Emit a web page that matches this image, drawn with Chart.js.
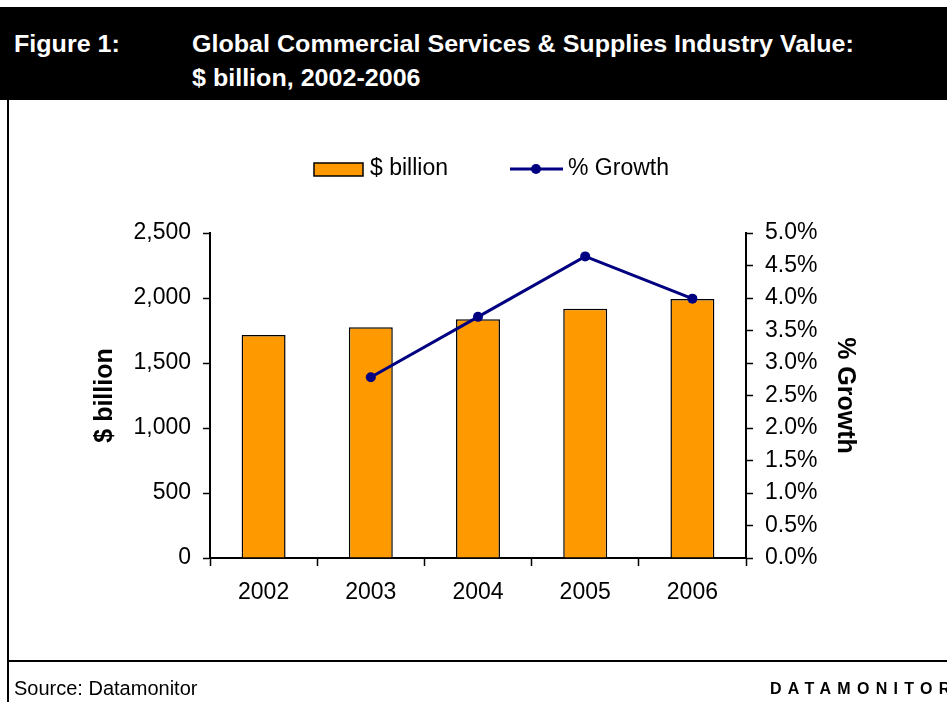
<!DOCTYPE html>
<html>
<head>
<meta charset="utf-8">
<script src="https://cdn.jsdelivr.net/npm/chart.js@4.4.1/dist/chart.umd.min.js"></script>
<style>
    body { margin: 0; background: #fff; font-family: "Liberation Sans", Arial, sans-serif; }
    #wrap { position: relative; width: 947px; height: 702px; overflow: hidden; }
    #myChart { position: absolute; left: 0; top: 0; }
    .band { position: absolute; left: 0; top: 7px; width: 947px; height: 93px; background: #000; }
    .ttl { position: absolute; color: #fff; font-weight: bold; font-size: 23px; line-height: 26px; white-space: nowrap; transform: scaleX(1.09); transform-origin: left center; }
    .vline { position: absolute; left: 7px; top: 100px; width: 2px; height: 602px; background: #000; }
    .hline { position: absolute; left: 7px; top: 660px; width: 940px; height: 2px; background: #000; }
    .src { position: absolute; left: 14px; top: 677px; font-size: 20px; line-height: 22px; }
    .brand { position: absolute; left: 770px; top: 680px; font-size: 16px; font-weight: bold; letter-spacing: 6.3px; line-height: 18px; white-space: nowrap; }
</style>
</head>
<body>
<div id="wrap">
    <canvas id="myChart" width="947" height="702"></canvas>
    <div class="band"></div>
    <div class="ttl" style="left:14px;top:31px">Figure 1:</div>
    <div class="ttl" style="left:192px;top:31px">Global Commercial Services &amp; Supplies Industry Value:</div>
    <div class="ttl" style="left:192px;top:65px">$ billion, 2002-2006</div>
    <div class="vline"></div>
    <div class="hline"></div>
    <div class="src">Source: Datamonitor</div>
    <div class="brand">DATAMONITOR</div>
</div>
<script>
const years = ['2002', '2003', '2004', '2005', '2006'];
const valueBillion = [1715, 1775, 1836, 1918, 1992];
const growthPct = [null, 2.78, 3.71, 4.64, 3.99];

const FONT = '"Liberation Sans", Arial, sans-serif';
const orange = '#FF9900';
const navy = '#000080';

// legend drawn by hand: box for bars, line-with-dot for the growth series
const legendPlugin = {
    id: 'topLegend',
    afterDraw(chart) {
        const ctx = chart.ctx;
        const ds = chart.data.datasets;
        const y = 169;
        ctx.save();
        ctx.font = '23px ' + FONT;
        ctx.textBaseline = 'middle';
        ctx.fillStyle = ds[0].backgroundColor;
        ctx.fillRect(314, 163, 49, 13);
        ctx.lineWidth = 1.5;
        ctx.strokeStyle = '#000';
        ctx.strokeRect(314, 163, 49, 13);
        ctx.fillStyle = '#000';
        ctx.fillText(ds[0].label, 370, y);

        ctx.strokeStyle = ds[1].borderColor;
        ctx.lineWidth = 3;
        ctx.beginPath();
        ctx.moveTo(510, y);
        ctx.lineTo(563, y);
        ctx.stroke();
        ctx.fillStyle = ds[1].borderColor;
        ctx.beginPath();
        ctx.arc(536, y, 5, 0, Math.PI * 2);
        ctx.fill();
        ctx.fillStyle = '#000';
        ctx.fillText(ds[1].label, 568, y);
        ctx.restore();
    }
};

const ctx1 = document.getElementById('myChart').getContext('2d');
const myChart1 = new Chart(ctx1, {
    data: {
        labels: years,
        datasets: [{
            type: 'bar',
            label: '$ billion',
            data: valueBillion,
            backgroundColor: orange,
            borderColor: '#000',
            borderWidth: 1.5,
            categoryPercentage: 1,
            barPercentage: 0.41,
            yAxisID: 'y',
            order: 2
        }, {
            type: 'line',
            label: '% Growth',
            data: growthPct,
            borderColor: navy,
            backgroundColor: navy,
            borderWidth: 3,
            pointRadius: 5,
            pointBackgroundColor: navy,
            pointBorderWidth: 0,
            tension: 0,
            yAxisID: 'y1',
            order: 1
        }]
    },
    plugins: [legendPlugin],
    options: {
        responsive: false,
        animation: false,
        layout: { padding: { top: 233, bottom: 84, left: 0, right: 0 } },
        plugins: {
            legend: { display: false },
            tooltip: { enabled: false }
        },
        scales: {
            x: {
                afterFit: s => { s.height = 60; },
                grid: { drawOnChartArea: false, offset: true, tickLength: 8, tickColor: '#000', tickWidth: 1.5 },
                border: { color: '#000', width: 2 },
                ticks: { color: '#000', font: { family: FONT, size: 23 }, padding: 13 }
            },
            y: {
                position: 'left',
                min: 0,
                max: 2500,
                afterFit: s => { s.width = 210; },
                grid: { drawOnChartArea: false, tickLength: 7, tickColor: '#000', tickWidth: 1.5 },
                border: { color: '#000', width: 2 },
                ticks: {
                    stepSize: 500,
                    color: '#000',
                    font: { family: FONT, size: 23 },
                    padding: 12,
                    callback: v => v.toLocaleString('en-US')
                },
                title: {
                    display: true,
                    text: '$ billion',
                    color: '#000',
                    font: { family: FONT, size: 25, weight: 'bold' },
                    padding: { top: 90, bottom: 0 }
                }
            },
            y1: {
                position: 'right',
                min: 0,
                max: 5,
                afterFit: s => { s.width = 201; },
                grid: { drawOnChartArea: false, tickLength: 7, tickColor: '#000', tickWidth: 1.5 },
                border: { color: '#000', width: 2 },
                ticks: {
                    stepSize: 0.5,
                    color: '#000',
                    font: { family: FONT, size: 23 },
                    padding: 12,
                    callback: v => v.toFixed(1) + '%'
                },
                title: {
                    display: true,
                    text: '% Growth',
                    color: '#000',
                    font: { family: FONT, size: 25, weight: 'bold' },
                    padding: { top: 87, bottom: 0 }
                }
            }
        }
    }
});
</script>
</body>
</html>
